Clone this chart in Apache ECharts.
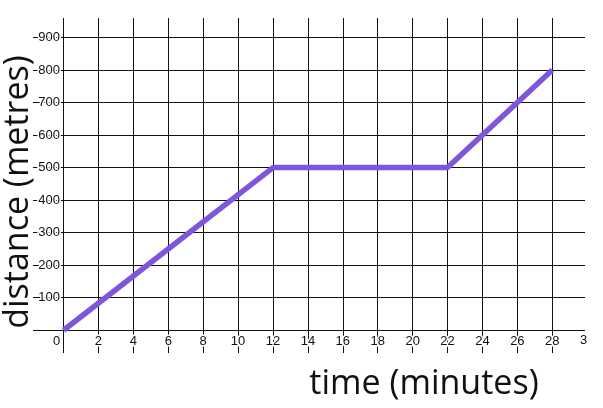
<!DOCTYPE html>
<html>
<head>
<meta charset="utf-8">
<script src="https://cdn.jsdelivr.net/npm/echarts@6/dist/echarts.min.js"></script>
<style>html,body{margin:0;padding:0;background:#fff;}#c{width:603px;height:408px;}</style>
</head>
<body>
<div id="c"></div>
<script>
// ---- data ----
const timeMinutes = [0, 12, 22, 28];
const distanceMetres = [0, 500, 500, 800];
const xTickLabels = [0, 2, 4, 6, 8, 10, 12, 14, 16, 18, 20, 22, 24, 26, 28];
const yTickLabels = [100, 200, 300, 400, 500, 600, 700, 800, 900];
const xAxisTitle = 'time (minutes)';
const yAxisTitle = 'distance (metres)';

const xMin = -1.75, xMax = 29.875;
const yMin = -70, yMax = 960;

const lineCol = '#111';
const xSplitColors = ['rgba(0,0,0,0)'].concat(xTickLabels.map(() => lineCol)).concat(['rgba(0,0,0,0)']);
const ySplitColors = ['rgba(0,0,0,0)', lineCol].concat(yTickLabels.map(() => lineCol)).concat(['rgba(0,0,0,0)']);

const labelBase = {
  color: '#111', fontFamily: 'Liberation Sans', fontSize: 13,
  textBorderColor: '#fff', textBorderWidth: 3
};

const chart = echarts.init(document.getElementById('c'), null, {renderer: 'canvas'});
chart.setOption({
  animation: false,
  backgroundColor: '#fff',
  grid: {left: 33, right: 18, top: 18, bottom: 55, containLabel: false, outerBoundsMode: 'none'},
  xAxis: {
    type: 'value', min: xMin, max: xMax, minInterval: 2, maxInterval: 2, splitNumber: 16,
    axisLine: {show: false}, axisTick: {show: false},
    splitLine: {show: true, lineStyle: {color: xSplitColors, width: 1}},
    axisLabel: Object.assign({}, labelBase, {
      inside: true, margin: 5,
      formatter: function (v) {
        if (xTickLabels.indexOf(v) < 0) return '';
        if (v === 0) return '{z|0}';
        return '{n|' + v + '}';
      },
      rich: {
        n: Object.assign({}, labelBase),
        z: Object.assign({}, labelBase, {padding: [0, 14, 0, 0], textBorderWidth: 0})
      }
    }),
    name: xAxisTitle, nameLocation: 'middle', nameGap: 14,
    nameTextStyle: {fontFamily: 'Open Sans', fontSize: 34, color: '#111', padding: [0, 0, 0, 230]}
  },
  yAxis: {
    type: 'value', min: yMin, max: yMax, minInterval: 100, maxInterval: 100, splitNumber: 11,
    axisLine: {show: false}, axisTick: {show: false},
    splitLine: {show: true, lineStyle: {color: ySplitColors, width: 1}},
    axisLabel: Object.assign({}, labelBase, {
      inside: true, margin: 27, align: 'right',
      formatter: function (v) { return yTickLabels.indexOf(v) < 0 ? '' : String(v); }
    })
  },
  graphic: [{
    type: 'text', left: 580, top: 334, silent: true,
    style: {text: '3', font: '13px "Liberation Sans"', fill: '#111'}
  }, {
    type: 'text', x: 18, y: 192, rotation: Math.PI / 2, silent: true,
    style: {text: yAxisTitle, font: '34px "Open Sans"', fill: '#111', align: 'center', verticalAlign: 'middle'}
  }],
  series: [{
    type: 'line',
    data: timeMinutes.map((t, i) => [t, distanceMetres[i]]),
    symbol: 'none',
    lineStyle: {color: '#7d56db', width: 5.5},
    z: 5
  }]
});
</script>
</body>
</html>
